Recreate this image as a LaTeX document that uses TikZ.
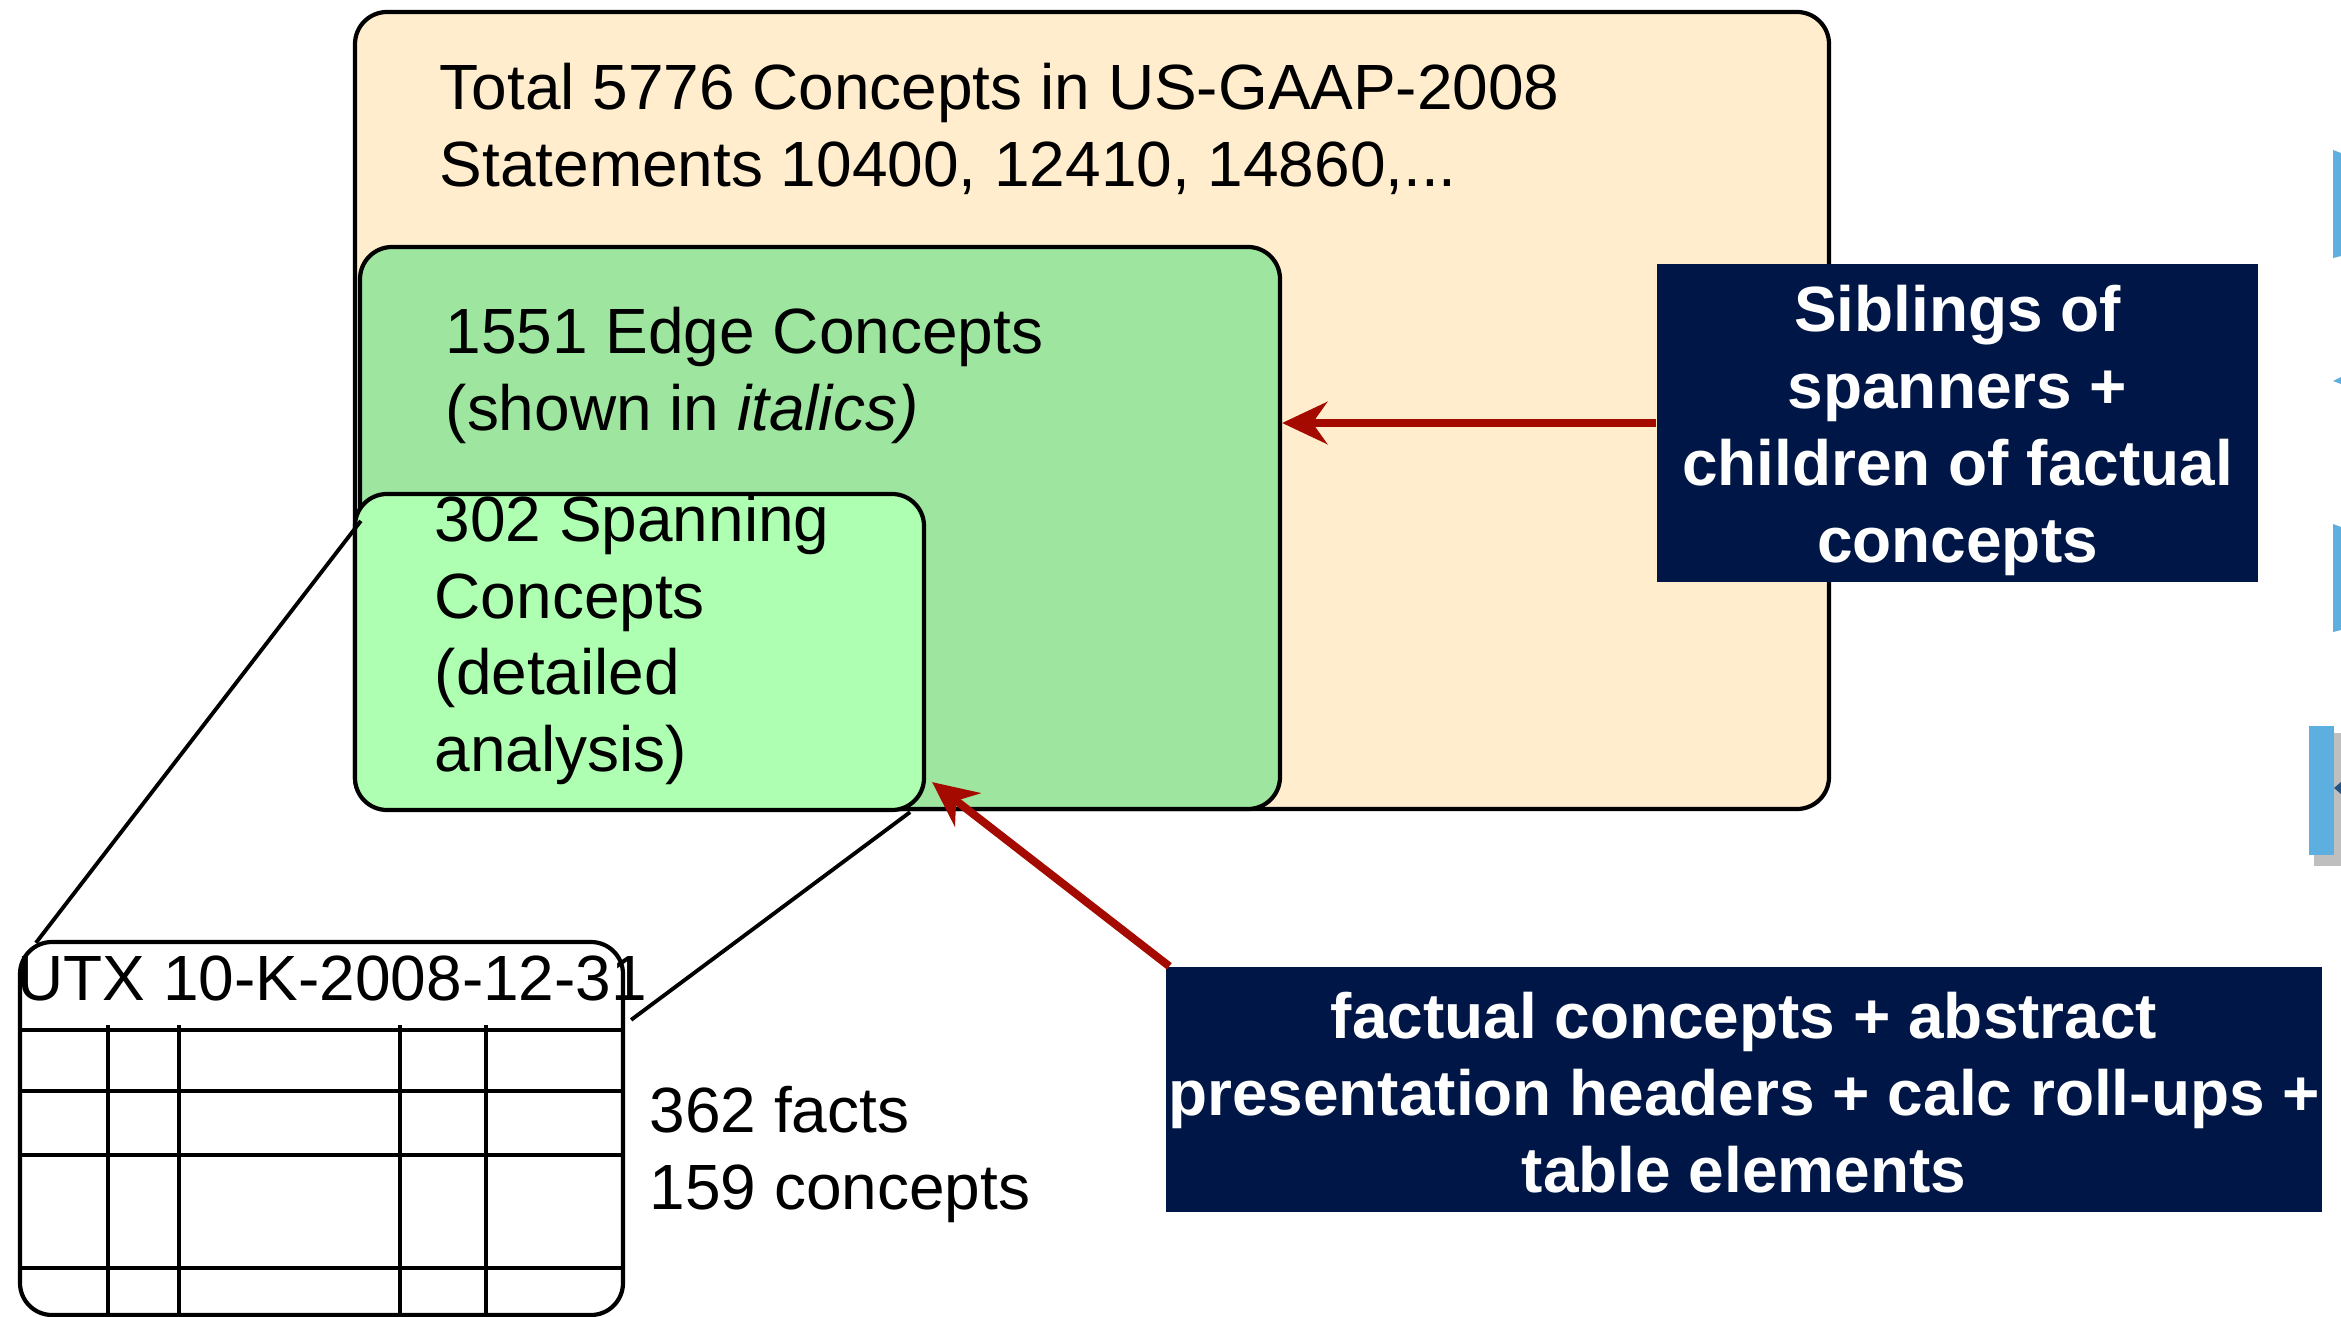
\documentclass[tikz,border=0pt]{standalone}
\usepackage{fontspec}
\setmainfont{Liberation Sans}
\usetikzlibrary{arrows.meta, positioning, calc}
\definecolor{conceptbeige}{RGB}{255,237,205}
\definecolor{edgegreen}{RGB}{158,229,160}
\definecolor{spangreen}{RGB}{174,255,178}
\definecolor{notenavy}{RGB}{0,22,70}
\definecolor{arrowred}{RGB}{165,10,0}
\definecolor{sideblue}{RGB}{93,175,223}
\tikzset{
  setbox/.style={draw=black, line width=1.2pt, rounded corners=0.32cm, inner sep=0pt},
  settext/.style={anchor=north west, inner sep=0pt, align=left, font=\fontsize{18.2}{21.9}\selectfont},
  notebox/.style={fill=notenavy, text=white, inner sep=0pt, align=center, font=\fontsize{18.2}{21.9}\selectfont\bfseries},
  pointer/.style={arrowred, line width=0.08cm, -{Stealth[length=0.45cm, width=0.42cm]}},
  zoomline/.style={black, line width=1.1pt},
  gridline/.style={black, line width=1.2pt},
}

\begin{document}
\begin{tikzpicture}
            \useasboundingbox (0,0) rectangle (23.41,-13.17);

            % nested concept sets
            \node[setbox, fill=conceptbeige, minimum width=14.74cm, minimum height=7.97cm] (total) at (10.92,-4.105) {};
            \node[setbox, fill=edgegreen, minimum width=9.20cm, minimum height=5.62cm] (edge) at (8.20,-5.28) {};
            \node[setbox, fill=spangreen, minimum width=5.69cm, minimum height=3.16cm] (span) at (6.395,-6.52) {};

            \node[settext] (totaltext) at (4.39,-0.62) {Total 5776 Concepts in US-GAAP-2008\\Statements 10400, 12410, 14860,...};
            \node[settext] (edgetext) at (4.45,-3.06) {1551 Edge Concepts\\(shown in \textit{italics)}};
            \node[settext] (spantext) at (4.34,-4.94) {302 Spanning\\Concepts\\(detailed\\analysis)};

            % filing table
            \node[setbox, minimum width=6.03cm, minimum height=3.73cm] (utx) at (3.215,-11.285) {};
            \foreach \y in {10.30,10.91,11.55,12.68}
                \draw[gridline] (0.20,-\y) -- (6.23,-\y);
            \foreach \x in {1.08,1.79,4.00,4.86}
                \draw[gridline] (\x,-10.25) -- (\x,-13.15);
            \node[settext] (utxtext) at (0.17,-9.55) {UTX 10-K-2008-12-31};
            \node[settext] (factstext) at (6.49,-10.86) {362 facts\\159 concepts};

            \draw[zoomline] ([xshift=0.08cm,yshift=-0.29cm]span.north west) -- ([xshift=0.18cm,yshift=-0.03cm]utx.north west);
            \draw[zoomline] ([xshift=-0.16cm]span.south east) -- ([xshift=0.06cm,yshift=-0.80cm]utx.north east);

            % notes
            \node[notebox, minimum width=6.01cm, minimum height=3.18cm] (sib) at (19.575,-4.23) {\rule{0pt}{0.61cm}Siblings of\\spanners +\\children of factual\\concepts};
            \node[notebox, minimum width=11.56cm, minimum height=2.45cm] (fact) at (17.44,-10.895) {\rule{0pt}{0.53cm}factual concepts + abstract\\presentation headers + calc roll-ups +\\table elements};

            \draw[pointer] (sib.west) -- (sib.west -| edge.east);
            \draw[pointer] ([xshift=0.04cm]fact.north west) -- ([xshift=0.06cm,yshift=0.30cm]span.south east);

            % cut-off shapes at the right edge
            \fill[sideblue] (23.33,-1.50) -- (23.41,-1.53) -- (23.41,-2.56) -- (23.33,-2.58) -- cycle;
            \fill[sideblue] (23.33,-3.81) -- (23.41,-3.77) -- (23.41,-3.84) -- cycle;
            \fill[sideblue] (23.33,-5.24) -- (23.41,-5.27) -- (23.41,-6.30) -- (23.33,-6.32) -- cycle;
            \fill[black, opacity=0.25] (23.14,-7.33) rectangle (23.41,-8.66);
            \fill[sideblue] (23.09,-7.26) rectangle (23.34,-8.55);
            \fill[notenavy!60!sideblue] (23.34,-7.88) -- (23.41,-7.82) -- (23.41,-7.94) -- cycle;
        \end{tikzpicture}
\end{document}
